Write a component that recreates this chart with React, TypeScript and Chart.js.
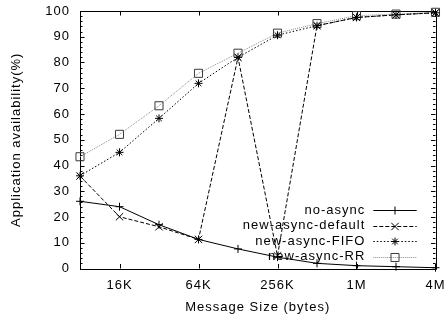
import React, { useEffect, useRef } from 'react';
import { Chart, registerables } from 'chart.js';

Chart.register(...registerables);

// ---- data ----
const messageSizesKB = [8, 16, 32, 64, 128, 256, 512, 1024, 2048, 4096];
const xTickValues = [16, 64, 256, 1024, 4096];
const xTickLabels = ['16K', '64K', '256K', '1M', '4M'];
const seriesNames = ['no-async', 'new-async-default', 'new-async-FIFO', 'new-async-RR'];
const noAsync = [26.1, 24.0, 17.0, 11.3, 7.6, 4.4, 2.0, 1.1, 0.7, 0.3];
const newAsyncDefault = [35.9, 20.1, 16.2, 11.3, 82.0, 4.9, 94.3, 97.5, 98.5, 99.3];
const newAsyncFIFO = [36.0, 45.1, 58.3, 71.9, 82.0, 90.6, 94.3, 97.5, 98.5, 99.3];
const newAsyncRR = [43.4, 52.1, 63.2, 75.8, 83.6, 91.4, 95.1, 98.2, 98.8, 99.5];
const yMin = 0;
const yMax = 100;
const yStep = 10;
const xTitle = 'Message Size (bytes)';
const yTitle = 'Application availability(%)';

const seriesValues = [noAsync, newAsyncDefault, newAsyncFIFO, newAsyncRR];

const seriesStyles = [
  { line: '#000000', point: '#000000', dash: [] as number[], pointStyle: 'cross', radius: 4 },
  { line: '#000000', point: '#000000', dash: [4, 2], pointStyle: 'crossRot', radius: 5.2 },
  { line: '#000000', point: '#000000', dash: [1.5, 2], pointStyle: 'star', radius: 4 },
  { line: '#8a8a8a', point: '#3a3a3a', dash: [1, 1], pointStyle: 'rect', radius: 5.7 },
];

const FONT = 'Liberation Sans, Arial, Helvetica, sans-serif';

function drawMarker(ctx: CanvasRenderingContext2D, style: string, x: number, y: number, r: number) {
  ctx.beginPath();
  if (style === 'cross' || style === 'star') {
    ctx.moveTo(x - r, y);
    ctx.lineTo(x + r, y);
    ctx.moveTo(x, y - r);
    ctx.lineTo(x, y + r);
  }
  if (style === 'crossRot' || style === 'star') {
    const d = r * Math.SQRT1_2;
    ctx.moveTo(x - d, y - d);
    ctx.lineTo(x + d, y + d);
    ctx.moveTo(x - d, y + d);
    ctx.lineTo(x + d, y - d);
  }
  if (style === 'rect') {
    const s = r * Math.SQRT1_2;
    ctx.rect(x - s, y - s, 2 * s, 2 * s);
  }
  ctx.stroke();
}

const spacingPlugin = {
  id: 'letterSpacing',
  beforeUpdate(chart: any) {
    (chart.ctx as any).letterSpacing = '1px';
  },
  beforeLayout(chart: any) {
    (chart.ctx as any).letterSpacing = '1px';
  },
  beforeDraw(chart: any) {
    (chart.ctx as any).letterSpacing = '1px';
  },
};

const framePlugin = {
  id: 'frame',
  beforeDatasetsDraw(chart: any) {
    const { ctx, chartArea } = chart;
    const { left, right, top, bottom } = chartArea;
    const xs = chart.scales.x;
    const ys = chart.scales.y;
    ctx.save();
    ctx.strokeStyle = '#000';
    ctx.lineWidth = 1;
    ctx.setLineDash([]);
    ctx.beginPath();
    ctx.rect(Math.round(left) + 0.5, Math.round(top) + 0.5, Math.round(right) - Math.round(left), Math.round(bottom) - Math.round(top));
    ctx.stroke();
    ctx.beginPath();
    const major = 4.5;
    const minor = 2.5;
    for (const v of xTickValues) {
      const px = Math.round(xs.getPixelForValue(v)) + 0.5;
      ctx.moveTo(px, bottom);
      ctx.lineTo(px, bottom - major);
      ctx.moveTo(px, top);
      ctx.lineTo(px, top + major);
    }
    for (let v = yMin; v <= yMax; v += yStep / 5) {
      const py = Math.round(ys.getPixelForValue(v)) + 0.5;
      const len = Math.abs(v % yStep) < 1e-6 ? major : minor;
      ctx.moveTo(left, py);
      ctx.lineTo(left + len, py);
      ctx.moveTo(right, py);
      ctx.lineTo(right - len, py);
    }
    ctx.stroke();
    ctx.restore();
  },
};

const legendPlugin = {
  id: 'keyBox',
  afterDatasetsDraw(chart: any) {
    const { ctx, chartArea } = chart;
    const textRight = chartArea.right - 70.2;
    const sampleL = chartArea.right - 62.2;
    const sampleR = chartArea.right - 18.8;
    const markX = (sampleL + sampleR) / 2;
    const rowGap = 15.6;
    const lastY = chartArea.bottom - 11.6;
    ctx.save();
    ctx.font = `13px ${FONT}`;
    ctx.textAlign = 'right';
    ctx.textBaseline = 'middle';
    seriesNames.forEach((name, i) => {
      const y = lastY - (seriesNames.length - 1 - i) * rowGap;
      const st = seriesStyles[i];
      ctx.fillStyle = '#000';
      ctx.fillText(name, textRight, y);
      ctx.strokeStyle = st.line;
      ctx.lineWidth = 1;
      ctx.setLineDash(st.dash);
      ctx.beginPath();
      ctx.moveTo(sampleL, Math.round(y) + 0.5);
      ctx.lineTo(sampleR, Math.round(y) + 0.5);
      ctx.stroke();
      ctx.setLineDash([]);
      ctx.strokeStyle = st.point;
      drawMarker(ctx, st.pointStyle, markX, Math.round(y) + 0.5, st.radius);
    });
    ctx.restore();
  },
};

export default function App() {
  const canvasRef = useRef<HTMLCanvasElement | null>(null);

  useEffect(() => {
    if (!canvasRef.current) return;
    const datasets = seriesNames.map((name, i) => {
      const st = seriesStyles[i];
      return {
        label: name,
        data: messageSizesKB.map((x, j) => ({ x, y: seriesValues[i][j] })),
        borderColor: st.line,
        borderWidth: 1,
        borderDash: st.dash,
        backgroundColor: 'rgba(0,0,0,0)',
        pointStyle: st.pointStyle,
        pointRadius: st.radius,
        pointBorderColor: st.point,
        pointBackgroundColor: 'rgba(0,0,0,0)',
        pointBorderWidth: 1,
        tension: 0,
        fill: false,
        clip: false as any,
      };
    });

    const chart = new Chart(canvasRef.current, {
      type: 'line',
      data: { datasets: datasets as any },
      plugins: [spacingPlugin, framePlugin, legendPlugin],
      options: {
        animation: false,
        responsive: true,
        maintainAspectRatio: false,
        events: [],
        layout: { padding: { top: 11, right: 10.5, left: 0, bottom: 0 } },
        plugins: { legend: { display: false }, tooltip: { enabled: false }, title: { display: false } },
        scales: {
          x: {
            type: 'logarithmic',
            min: messageSizesKB[0],
            max: messageSizesKB[messageSizesKB.length - 1],
            grid: { display: false, drawTicks: false },
            border: { display: false },
            afterBuildTicks: (scale: any) => {
              scale.ticks = xTickValues.map((v) => ({ value: v }));
            },
            afterFit: (scale: any) => {
              scale.height = 51.5;
              scale.paddingLeft = 0;
              scale.paddingRight = 0;
            },
            ticks: {
              autoSkip: false,
              maxRotation: 0,
              padding: 9,
              color: '#000',
              font: { family: FONT, size: 13 },
              callback: (value: any) => {
                const idx = xTickValues.indexOf(Number(value));
                return idx >= 0 ? xTickLabels[idx] : '';
              },
            },
            title: {
              display: true,
              text: xTitle,
              color: '#000',
              font: { family: FONT, size: 13 },
              padding: { top: 0, bottom: 5 },
            },
          },
          y: {
            type: 'linear',
            min: yMin,
            max: yMax,
            grid: { display: false, drawTicks: false },
            border: { display: false },
            afterFit: (scale: any) => {
              scale.width = 80;
              scale.paddingTop = 0;
              scale.paddingBottom = 0;
            },
            ticks: {
              stepSize: yStep,
              padding: 10,
              color: '#000',
              font: { family: FONT, size: 13 },
            },
            title: {
              display: true,
              text: yTitle,
              color: '#000',
              font: { family: FONT, size: 13 },
              padding: { top: 9, bottom: 0 },
            },
          },
        },
      } as any,
    });
    return () => chart.destroy();
  }, []);

  return (
    <div style={{ position: 'absolute', left: 0, top: 0, width: 446, height: 320, background: '#fff' }}>
      <canvas ref={canvasRef} />
    </div>
  );
}
